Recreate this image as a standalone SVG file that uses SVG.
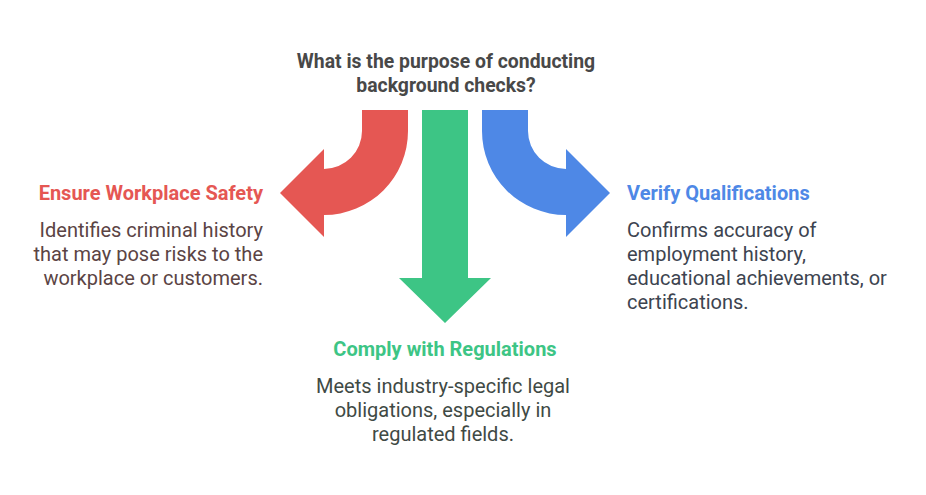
<svg xmlns="http://www.w3.org/2000/svg" width="926" height="495" viewBox="0 0 926 495">
<style>
text{font-family:Roboto,"Liberation Sans",sans-serif}
.t{font-size:19.4px;font-weight:bold;fill:#484848}
.h{font-size:20px;font-weight:bold}
.d{font-size:20px}
</style>
<rect width="926" height="495" fill="#ffffff"/>
<g id="title">
<text class="t" x="446" y="68" text-anchor="middle">What is the purpose of conducting</text>
<text class="t" x="446" y="92" text-anchor="middle">background checks?</text>
</g>
<g id="connectors">
<path id="arrow-red" fill="#E55753" d="M362,110 L408,110 L408,131 A84,84 0 0 1 324,215 L324,237 L280,193 L324,149 L324,169 A38,38 0 0 0 362,131 Z"/>
<path id="arrow-green" fill="#3DC585" d="M422,110 L468,110 L468,278 L491,278 L445,323 L399,278 L422,278 Z"/>
<path id="arrow-blue" fill="#4E88E6" d="M528,110 L482,110 L482,131 A84,84 0 0 0 566,215 L566,237 L610,193 L566,149 L566,169 A38,38 0 0 1 528,131 Z"/>
</g>
<g id="node-safety">
<text class="h" x="263" y="200" text-anchor="end" fill="#E55753">Ensure Workplace Safety</text>
<text class="d" x="263" y="237" text-anchor="end" fill="#5B4444">Identifies criminal history</text>
<text class="d" x="263" y="261" text-anchor="end" fill="#5B4444">that may pose risks to the</text>
<text class="d" x="263" y="285" text-anchor="end" fill="#5B4444">workplace or customers.</text>
</g>
<g id="node-regulations">
<text class="h" x="445" y="356" text-anchor="middle" fill="#3DC585">Comply with Regulations</text>
<text class="d" x="443" y="393" text-anchor="middle" fill="#3F4A45">Meets industry-specific legal</text>
<text class="d" x="443" y="417" text-anchor="middle" fill="#3F4A45">obligations, especially in</text>
<text class="d" x="443" y="441" text-anchor="middle" fill="#3F4A45">regulated fields.</text>
</g>
<g id="node-qualifications">
<text class="h" x="627" y="200" fill="#4E88E6">Verify Qualifications</text>
<text class="d" x="627" y="237" fill="#3D4450">Confirms accuracy of</text>
<text class="d" x="627" y="261" fill="#3D4450">employment history,</text>
<text class="d" x="627" y="285" fill="#3D4450">educational achievements, or</text>
<text class="d" x="627" y="309" fill="#3D4450">certifications.</text>
</g>
</svg>
